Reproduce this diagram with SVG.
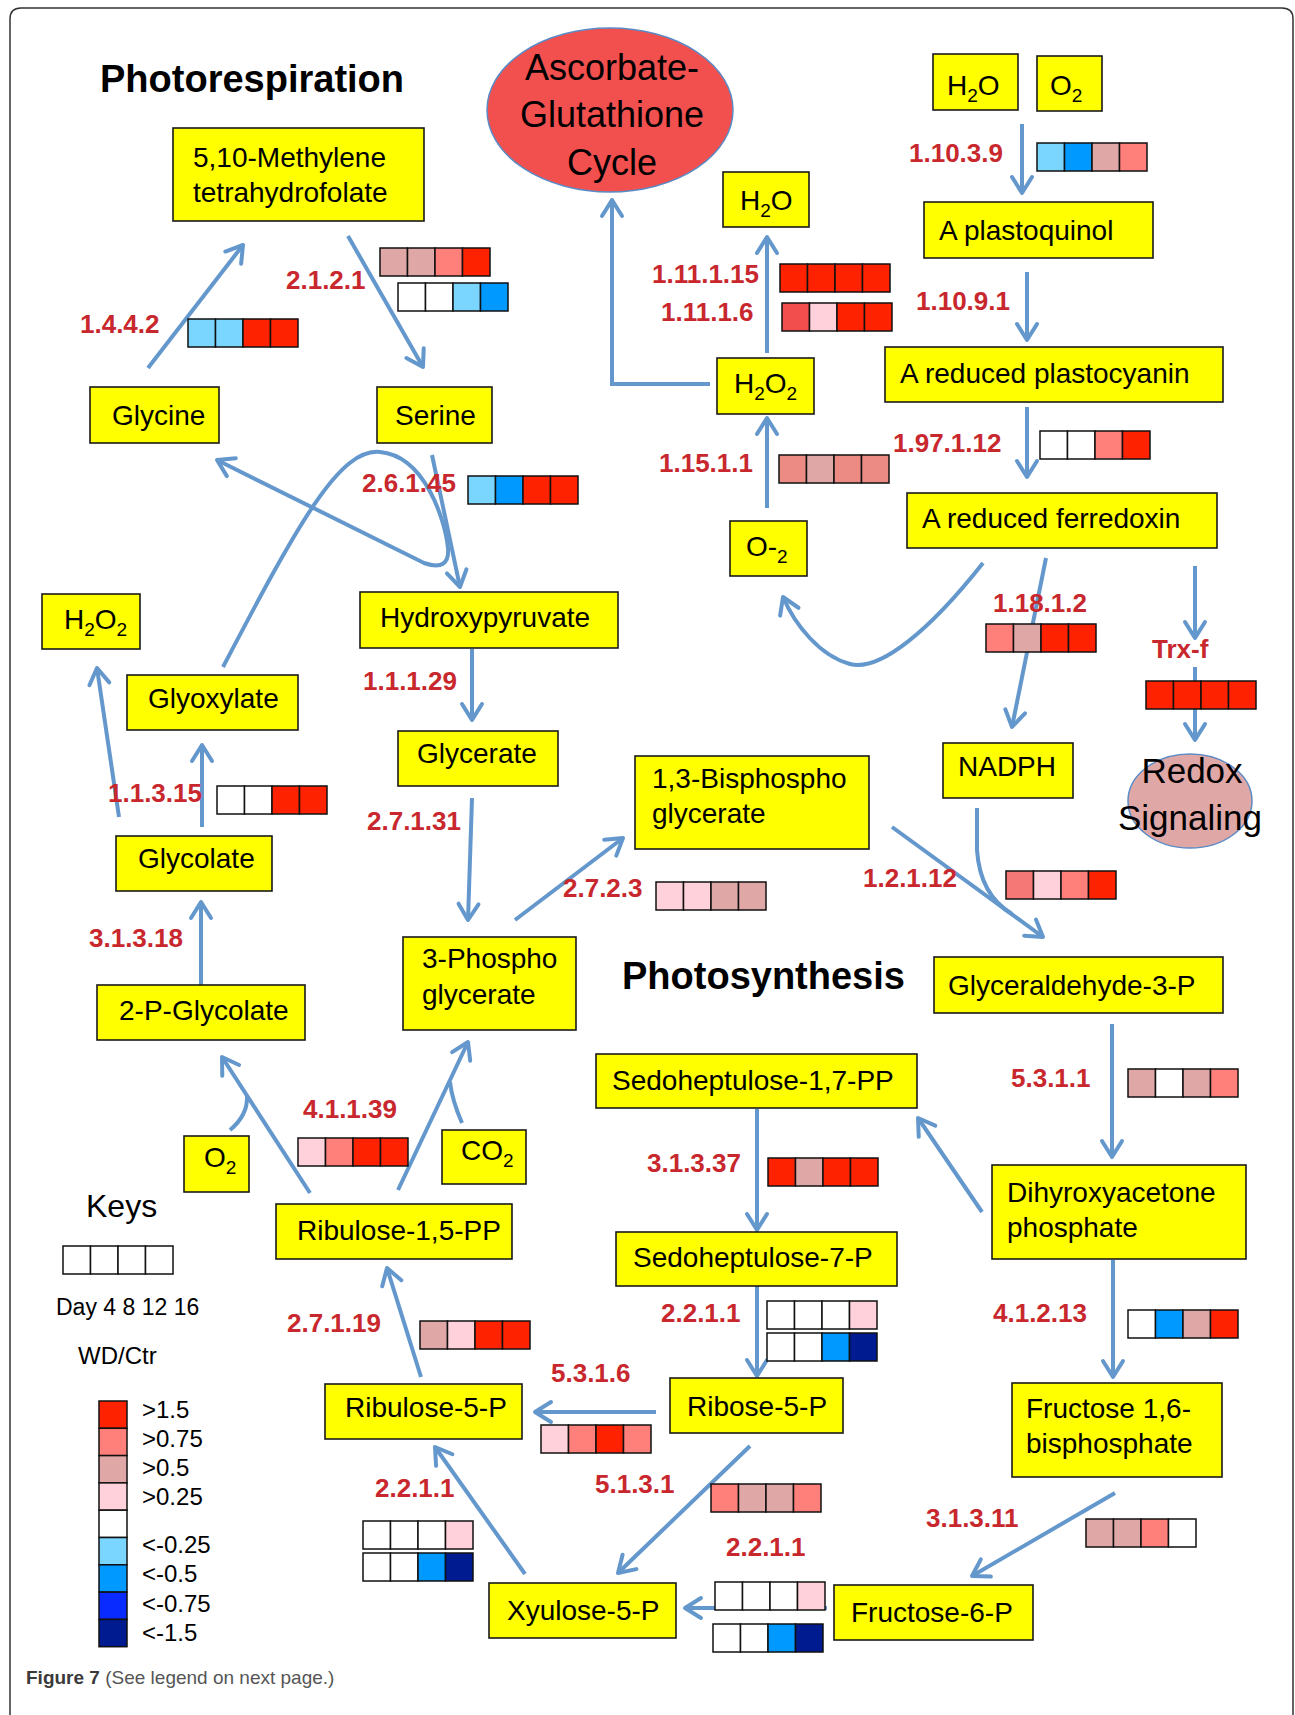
<svg xmlns="http://www.w3.org/2000/svg" width="1295" height="1715" viewBox="0 0 1295 1715">
<defs>
<style>
.t{font-family:"Liberation Sans",Arial,sans-serif;font-size:28px;fill:#000}
.big{font-family:"Liberation Sans",Arial,sans-serif;fill:#000;text-anchor:middle}
.e{font-family:"Liberation Sans",Arial,sans-serif;font-weight:bold;font-size:26px;fill:#C8282D}
.h{font-family:"Liberation Sans",Arial,sans-serif;font-weight:bold;font-size:38px;fill:#000}
.k{font-family:"Liberation Sans",Arial,sans-serif;fill:#000}
.box{fill:#FFFF00;stroke:#1a1a1a;stroke-width:1.6}
.c{fill:none;stroke:#6498CD;stroke-width:4}
.a{marker-end:url(#ah)}
.hm rect{stroke:#111;stroke-width:1.5}
.R{fill:#FF2200}.S{fill:#FF7F7A}.M{fill:#E0A7A7}.P{fill:#FFD1DA}.W{fill:#FFFFFF}
.L{fill:#7AD6FF}.B{fill:#0099FF}.D{fill:#0A2BFF}.N{fill:#001A8F}
</style>
<marker id="ah" viewBox="-20 -13 24 26" refX="0" refY="0" markerWidth="24" markerHeight="26" orient="auto" markerUnits="userSpaceOnUse">
<path d="M-16,-10 L0,0 L-16,10" fill="none" stroke="#6498CD" stroke-width="4" stroke-linecap="round" stroke-linejoin="round"/>
</marker>
</defs>
<rect width="1295" height="1715" fill="#fff"/>
<path d="M10,1715 L10,19 Q10,8 21,8 L1282,8 Q1293,8 1293,19 L1293,1715" fill="none" stroke="#333" stroke-width="1.5"/>

<text class="h" x="100" y="92">Photorespiration</text>
<text class="h" x="622" y="989">Photosynthesis</text>

<g id="connectors">
<path class="c a" d="M148,368 L243,245"/>
<path class="c a" d="M348,236 L423,367"/>
<path class="c a" d="M432,455 L460,587"/>
<path class="c a" d="M223,667 C300,520 340,448 380,452 C425,456 445,520 448,548 Q450,572 424,563 L217,460"/>
<path class="c a" d="M472,649 L472,720"/>
<path class="c a" d="M472,798 L468,920"/>
<path class="c a" d="M515,920 L623,838"/>
<path class="c a" d="M202,827 L202,745"/>
<path class="c a" d="M119,817 L97,668"/>
<path class="c a" d="M201,985 L201,902"/>
<path class="c a" d="M310,1193 L222,1057"/>
<path class="c" d="M230,1130 Q248,1115 247,1096"/>
<path class="c a" d="M398,1190 L468,1042"/>
<path class="c" d="M462,1123 Q452,1100 450,1082"/>
<path class="c a" d="M421,1377 L387,1268"/>
<path class="c a" d="M892,827 L1043,937"/>
<path class="c" d="M977,808 L977,850 Q980,895 1012,914"/>
<path class="c a" d="M1112,1024 L1112,1157"/>
<path class="c a" d="M982,1212 L918,1118"/>
<path class="c a" d="M757,1109 L757,1230"/>
<path class="c a" d="M757,1286 L757,1376"/>
<path class="c a" d="M656,1412 L535,1412"/>
<path class="c a" d="M750,1446 L618,1573"/>
<path class="c a" d="M525,1574 L435,1447"/>
<path class="c a" d="M827,1608 L685,1608"/>
<path class="c a" d="M1113,1260 L1113,1377"/>
<path class="c a" d="M1115,1493 L972,1576"/>
<path class="c a" d="M1022,124 L1022,193"/>
<path class="c a" d="M1027,272 L1027,340"/>
<path class="c a" d="M1027,407 L1027,477"/>
<path class="c a" d="M1046,558 L1012,727"/>
<path class="c a" d="M1195,566 L1195,638"/>
<path class="c a" d="M1195,667 L1195,740"/>
<path class="c a" d="M767,508 L767,418"/>
<path class="c a" d="M767,353 L767,237"/>
<path class="c a" d="M710,384 L612,384 L612,200"/>
<path class="c a" d="M983,563 C930,630 880,672 850,664 C820,656 795,625 783,597"/>
</g>

<g id="labels">
<text class="e" x="80" y="333">1.4.4.2</text>
<text class="e" x="286" y="289">2.1.2.1</text>
<text class="e" x="652" y="283">1.11.1.15</text>
<text class="e" x="661" y="321">1.11.1.6</text>
<text class="e" x="909" y="162">1.10.3.9</text>
<text class="e" x="916" y="310">1.10.9.1</text>
<text class="e" x="893" y="452">1.97.1.12</text>
<text class="e" x="659" y="472">1.15.1.1</text>
<text class="e" x="362" y="492">2.6.1.45</text>
<text class="e" x="993" y="612">1.18.1.2</text>
<text class="e" x="1152" y="658">Trx-f</text>
<text class="e" x="363" y="690">1.1.1.29</text>
<text class="e" x="367" y="830">2.7.1.31</text>
<text class="e" x="108" y="802">1.1.3.15</text>
<text class="e" x="563" y="897">2.7.2.3</text>
<text class="e" x="863" y="887">1.2.1.12</text>
<text class="e" x="89" y="947">3.1.3.18</text>
<text class="e" x="1011" y="1087">5.3.1.1</text>
<text class="e" x="303" y="1118">4.1.1.39</text>
<text class="e" x="647" y="1172">3.1.3.37</text>
<text class="e" x="287" y="1332">2.7.1.19</text>
<text class="e" x="661" y="1322">2.2.1.1</text>
<text class="e" x="993" y="1322">4.1.2.13</text>
<text class="e" x="551" y="1382">5.3.1.6</text>
<text class="e" x="595" y="1493">5.1.3.1</text>
<text class="e" x="375" y="1497">2.2.1.1</text>
<text class="e" x="926" y="1527">3.1.3.11</text>
<text class="e" x="726" y="1556">2.2.1.1</text>
</g>

<g id="heatmaps">
<g class="hm" transform="translate(188,319)"><rect x="0" width="27.5" height="28" class="L"/><rect x="27.5" width="27.5" height="28" class="L"/><rect x="55" width="27.5" height="28" class="R"/><rect x="82.5" width="27.5" height="28" class="R"/></g>
<g class="hm" transform="translate(380,248)"><rect x="0" width="27.5" height="28" class="M"/><rect x="27.5" width="27.5" height="28" class="M"/><rect x="55" width="27.5" height="28" class="S"/><rect x="82.5" width="27.5" height="28" class="R"/></g>
<g class="hm" transform="translate(398,283)"><rect x="0" width="27.5" height="28" class="W"/><rect x="27.5" width="27.5" height="28" class="W"/><rect x="55" width="27.5" height="28" class="L"/><rect x="82.5" width="27.5" height="28" class="B"/></g>
<g class="hm" transform="translate(1037,143)"><rect x="0" width="27.5" height="28" class="L"/><rect x="27.5" width="27.5" height="28" class="B"/><rect x="55" width="27.5" height="28" class="M"/><rect x="82.5" width="27.5" height="28" class="S"/></g>
<g class="hm" transform="translate(780,264)"><rect x="0" width="27.5" height="28" class="R"/><rect x="27.5" width="27.5" height="28" class="R"/><rect x="55" width="27.5" height="28" class="R"/><rect x="82.5" width="27.5" height="28" class="R"/></g>
<g class="hm" transform="translate(782,303)"><rect x="0" width="27.5" height="28" fill="#F24E4E"/><rect x="27.5" width="27.5" height="28" class="P"/><rect x="55" width="27.5" height="28" class="R"/><rect x="82.5" width="27.5" height="28" class="R"/></g>
<g class="hm" transform="translate(1040,431)"><rect x="0" width="27.5" height="28" class="W"/><rect x="27.5" width="27.5" height="28" class="W"/><rect x="55" width="27.5" height="28" class="S"/><rect x="82.5" width="27.5" height="28" class="R"/></g>
<g class="hm" transform="translate(468,476)"><rect x="0" width="27.5" height="28" class="L"/><rect x="27.5" width="27.5" height="28" class="B"/><rect x="55" width="27.5" height="28" class="R"/><rect x="82.5" width="27.5" height="28" class="R"/></g>
<g class="hm" transform="translate(779,455)"><rect x="0" width="27.5" height="28" fill="#EC8A84"/><rect x="27.5" width="27.5" height="28" class="M"/><rect x="55" width="27.5" height="28" fill="#EC8A84"/><rect x="82.5" width="27.5" height="28" fill="#EC8A84"/></g>
<g class="hm" transform="translate(986,624)"><rect x="0" width="27.5" height="28" class="S"/><rect x="27.5" width="27.5" height="28" class="M"/><rect x="55" width="27.5" height="28" class="R"/><rect x="82.5" width="27.5" height="28" class="R"/></g>
<g class="hm" transform="translate(1146,681)"><rect x="0" width="27.5" height="28" class="R"/><rect x="27.5" width="27.5" height="28" class="R"/><rect x="55" width="27.5" height="28" class="R"/><rect x="82.5" width="27.5" height="28" class="R"/></g>
<g class="hm" transform="translate(217,786)"><rect x="0" width="27.5" height="28" class="W"/><rect x="27.5" width="27.5" height="28" class="W"/><rect x="55" width="27.5" height="28" class="R"/><rect x="82.5" width="27.5" height="28" class="R"/></g>
<g class="hm" transform="translate(656,882)"><rect x="0" width="27.5" height="28" class="P"/><rect x="27.5" width="27.5" height="28" class="P"/><rect x="55" width="27.5" height="28" class="M"/><rect x="82.5" width="27.5" height="28" class="M"/></g>
<g class="hm" transform="translate(1006,871)"><rect x="0" width="27.5" height="28" fill="#F57876"/><rect x="27.5" width="27.5" height="28" class="P"/><rect x="55" width="27.5" height="28" class="S"/><rect x="82.5" width="27.5" height="28" class="R"/></g>
<g class="hm" transform="translate(1128,1069)"><rect x="0" width="27.5" height="28" class="M"/><rect x="27.5" width="27.5" height="28" class="W"/><rect x="55" width="27.5" height="28" class="M"/><rect x="82.5" width="27.5" height="28" class="S"/></g>
<g class="hm" transform="translate(298,1138)"><rect x="0" width="27.5" height="28" class="P"/><rect x="27.5" width="27.5" height="28" class="S"/><rect x="55" width="27.5" height="28" class="R"/><rect x="82.5" width="27.5" height="28" class="R"/></g>
<g class="hm" transform="translate(768,1158)"><rect x="0" width="27.5" height="28" class="R"/><rect x="27.5" width="27.5" height="28" class="M"/><rect x="55" width="27.5" height="28" class="R"/><rect x="82.5" width="27.5" height="28" class="R"/></g>
<g class="hm" transform="translate(420,1321)"><rect x="0" width="27.5" height="28" class="M"/><rect x="27.5" width="27.5" height="28" class="P"/><rect x="55" width="27.5" height="28" class="R"/><rect x="82.5" width="27.5" height="28" class="R"/></g>
<g class="hm" transform="translate(767,1301)"><rect x="0" width="27.5" height="28" class="W"/><rect x="27.5" width="27.5" height="28" class="W"/><rect x="55" width="27.5" height="28" class="W"/><rect x="82.5" width="27.5" height="28" class="P"/></g>
<g class="hm" transform="translate(767,1333)"><rect x="0" width="27.5" height="28" class="W"/><rect x="27.5" width="27.5" height="28" class="W"/><rect x="55" width="27.5" height="28" class="B"/><rect x="82.5" width="27.5" height="28" class="N"/></g>
<g class="hm" transform="translate(1128,1310)"><rect x="0" width="27.5" height="28" class="W"/><rect x="27.5" width="27.5" height="28" class="B"/><rect x="55" width="27.5" height="28" class="M"/><rect x="82.5" width="27.5" height="28" class="R"/></g>
<g class="hm" transform="translate(541,1425)"><rect x="0" width="27.5" height="28" class="P"/><rect x="27.5" width="27.5" height="28" class="S"/><rect x="55" width="27.5" height="28" class="R"/><rect x="82.5" width="27.5" height="28" class="S"/></g>
<g class="hm" transform="translate(711,1484)"><rect x="0" width="27.5" height="28" class="S"/><rect x="27.5" width="27.5" height="28" class="M"/><rect x="55" width="27.5" height="28" class="M"/><rect x="82.5" width="27.5" height="28" class="S"/></g>
<g class="hm" transform="translate(363,1521)"><rect x="0" width="27.5" height="28" class="W"/><rect x="27.5" width="27.5" height="28" class="W"/><rect x="55" width="27.5" height="28" class="W"/><rect x="82.5" width="27.5" height="28" class="P"/></g>
<g class="hm" transform="translate(363,1553)"><rect x="0" width="27.5" height="28" class="W"/><rect x="27.5" width="27.5" height="28" class="W"/><rect x="55" width="27.5" height="28" class="B"/><rect x="82.5" width="27.5" height="28" class="N"/></g>
<g class="hm" transform="translate(1086,1519)"><rect x="0" width="27.5" height="28" class="M"/><rect x="27.5" width="27.5" height="28" class="M"/><rect x="55" width="27.5" height="28" class="S"/><rect x="82.5" width="27.5" height="28" class="W"/></g>
<g class="hm" transform="translate(715,1582)"><rect x="0" width="27.5" height="28" class="W"/><rect x="27.5" width="27.5" height="28" class="W"/><rect x="55" width="27.5" height="28" class="W"/><rect x="82.5" width="27.5" height="28" class="P"/></g>
<g class="hm" transform="translate(713,1624)"><rect x="0" width="27.5" height="28" class="W"/><rect x="27.5" width="27.5" height="28" class="W"/><rect x="55" width="27.5" height="28" class="B"/><rect x="82.5" width="27.5" height="28" class="N"/></g>
</g>

<g id="n-methylene"><rect class="box" x="173" y="128" width="251" height="93"/><text class="t" x="193" y="167">5,10-Methylene</text><text class="t" x="193" y="202">tetrahydrofolate</text></g>
<g id="n-glycine"><rect class="box" x="90" y="387" width="129" height="56"/><text class="t" x="112" y="425">Glycine</text></g>
<g id="n-serine"><rect class="box" x="377" y="387" width="115" height="56"/><text class="t" x="395" y="425">Serine</text></g>
<g id="n-ascorbate"><ellipse cx="610" cy="110" rx="123" ry="82" fill="#F24F4F" stroke="#5B8BC5" stroke-width="1.5"/><text class="big" font-size="36" x="612" y="80">Ascorbate-</text><text class="big" font-size="36" x="612" y="127">Glutathione</text><text class="big" font-size="36" x="612" y="175">Cycle</text></g>
<g id="n-h2o-mid"><rect class="box" x="723" y="172" width="86" height="55"/><text class="t" x="740" y="210">H<tspan font-size="19" dy="7">2</tspan><tspan dy="-7">O</tspan></text></g>
<g id="n-h2o-top"><rect class="box" x="933" y="54" width="85" height="56"/><text class="t" x="947" y="95">H<tspan font-size="19" dy="7">2</tspan><tspan dy="-7">O</tspan></text></g>
<g id="n-o2-top"><rect class="box" x="1037" y="56" width="65" height="55"/><text class="t" x="1050" y="95">O<tspan font-size="19" dy="7">2</tspan></text></g>
<g id="n-plastoquinol"><rect class="box" x="924" y="202" width="229" height="56"/><text class="t" x="939" y="240">A plastoquinol</text></g>
<g id="n-plastocyanin"><rect class="box" x="885" y="347" width="338" height="55"/><text class="t" x="900" y="383">A reduced plastocyanin</text></g>
<g id="n-h2o2-mid"><rect class="box" x="717" y="358" width="97" height="56"/><text class="t" x="734" y="393">H<tspan font-size="19" dy="7">2</tspan><tspan dy="-7">O</tspan><tspan font-size="19" dy="7">2</tspan></text></g>
<g id="n-superoxide"><rect class="box" x="730" y="521" width="77" height="55"/><text class="t" x="746" y="556">O-<tspan font-size="19" dy="7">2</tspan></text></g>
<g id="n-ferredoxin"><rect class="box" x="907" y="493" width="310" height="55"/><text class="t" x="922" y="528">A reduced ferredoxin</text></g>
<g id="n-nadph"><rect class="box" x="943" y="743" width="130" height="55"/><text class="t" x="958" y="776">NADPH</text></g>
<g id="n-redox"><ellipse cx="1190" cy="801" rx="62" ry="47" fill="#E0A7A7" stroke="#5B8BC5" stroke-width="1.5"/><text class="big" font-size="35" x="1192" y="783">Redox</text><text class="big" font-size="35" x="1190" y="830">Signaling</text></g>
<g id="n-h2o2-left"><rect class="box" x="42" y="594" width="98" height="55"/><text class="t" x="64" y="629">H<tspan font-size="19" dy="7">2</tspan><tspan dy="-7">O</tspan><tspan font-size="19" dy="7">2</tspan></text></g>
<g id="n-hydroxypyruvate"><rect class="box" x="360" y="592" width="258" height="56"/><text class="t" x="380" y="627">Hydroxypyruvate</text></g>
<g id="n-glyoxylate"><rect class="box" x="127" y="675" width="171" height="55"/><text class="t" x="148" y="708">Glyoxylate</text></g>
<g id="n-glycerate"><rect class="box" x="398" y="731" width="160" height="55"/><text class="t" x="417" y="763">Glycerate</text></g>
<g id="n-bpg"><rect class="box" x="635" y="756" width="234" height="93"/><text class="t" x="652" y="788">1,3-Bisphospho</text><text class="t" x="652" y="823">glycerate</text></g>
<g id="n-glycolate"><rect class="box" x="116" y="836" width="156" height="55"/><text class="t" x="138" y="868">Glycolate</text></g>
<g id="n-3pga"><rect class="box" x="403" y="937" width="173" height="93"/><text class="t" x="422" y="968">3-Phospho</text><text class="t" x="422" y="1004">glycerate</text></g>
<g id="n-g3p"><rect class="box" x="934" y="957" width="289" height="56"/><text class="t" x="948" y="995">Glyceraldehyde-3-P</text></g>
<g id="n-2pglycolate"><rect class="box" x="97" y="985" width="208" height="55"/><text class="t" x="119" y="1020">2-P-Glycolate</text></g>
<g id="n-sbp"><rect class="box" x="596" y="1054" width="321" height="54"/><text class="t" x="612" y="1090">Sedoheptulose-1,7-PP</text></g>
<g id="n-o2-left"><rect class="box" x="184" y="1136" width="65" height="56"/><text class="t" x="204" y="1167">O<tspan font-size="19" dy="7">2</tspan></text></g>
<g id="n-co2"><rect class="box" x="442" y="1130" width="84" height="54"/><text class="t" x="461" y="1160">CO<tspan font-size="19" dy="7">2</tspan></text></g>
<g id="n-dhap"><rect class="box" x="992" y="1165" width="254" height="94"/><text class="t" x="1007" y="1202">Dihyroxyacetone</text><text class="t" x="1007" y="1237">phosphate</text></g>
<g id="n-rubp"><rect class="box" x="276" y="1204" width="236" height="55"/><text class="t" x="297" y="1240">Ribulose-1,5-PP</text></g>
<g id="n-s7p"><rect class="box" x="616" y="1232" width="281" height="54"/><text class="t" x="633" y="1267">Sedoheptulose-7-P</text></g>
<g id="n-r5p"><rect class="box" x="670" y="1378" width="173" height="55"/><text class="t" x="687" y="1416">Ribose-5-P</text></g>
<g id="n-ru5p"><rect class="box" x="325" y="1384" width="197" height="55"/><text class="t" x="345" y="1417">Ribulose-5-P</text></g>
<g id="n-fbp"><rect class="box" x="1012" y="1383" width="210" height="94"/><text class="t" x="1026" y="1418">Fructose 1,6-</text><text class="t" x="1026" y="1453">bisphosphate</text></g>
<g id="n-xu5p"><rect class="box" x="489" y="1583" width="187" height="55"/><text class="t" x="507" y="1620">Xyulose-5-P</text></g>
<g id="n-f6p"><rect class="box" x="834" y="1585" width="199" height="55"/><text class="t" x="851" y="1622">Fructose-6-P</text></g>

<g id="keys">
<text class="k" x="86" y="1217" font-size="32">Keys</text>
<g class="hm" transform="translate(63,1246)"><rect x="0" width="27.5" height="28" class="W"/><rect x="27.5" width="27.5" height="28" class="W"/><rect x="55" width="27.5" height="28" class="W"/><rect x="82.5" width="27.5" height="28" class="W"/></g>
<text class="k" x="56" y="1315" font-size="23">Day 4 8 12 16</text>
<text class="k" x="78" y="1364" font-size="24">WD/Ctr</text>
<g class="hm" transform="translate(99,1401)">
<rect y="0" width="28" height="27.3" class="R"/><rect y="27.3" width="28" height="27.3" class="S"/><rect y="54.6" width="28" height="27.3" class="M"/><rect y="81.9" width="28" height="27.3" class="P"/><rect y="109.2" width="28" height="27.3" class="W"/><rect y="136.5" width="28" height="27.3" class="L"/><rect y="163.8" width="28" height="27.3" class="B"/><rect y="191.1" width="28" height="27.3" class="D"/><rect y="218.4" width="28" height="27.3" class="N"/>
</g>
<text class="k" x="142" y="1418" font-size="24">&gt;1.5</text>
<text class="k" x="142" y="1447" font-size="24">&gt;0.75</text>
<text class="k" x="142" y="1476" font-size="24">&gt;0.5</text>
<text class="k" x="142" y="1505" font-size="24">&gt;0.25</text>
<text class="k" x="142" y="1553" font-size="24">&lt;-0.25</text>
<text class="k" x="142" y="1582" font-size="24">&lt;-0.5</text>
<text class="k" x="142" y="1612" font-size="24">&lt;-0.75</text>
<text class="k" x="142" y="1641" font-size="24">&lt;-1.5</text>
</g>
<text x="26" y="1684" font-family="'Liberation Sans',Arial,sans-serif" font-size="19"><tspan font-weight="bold" fill="#3a3a3a">Figure 7</tspan><tspan fill="#555"> (See legend on next page.)</tspan></text>
</svg>
